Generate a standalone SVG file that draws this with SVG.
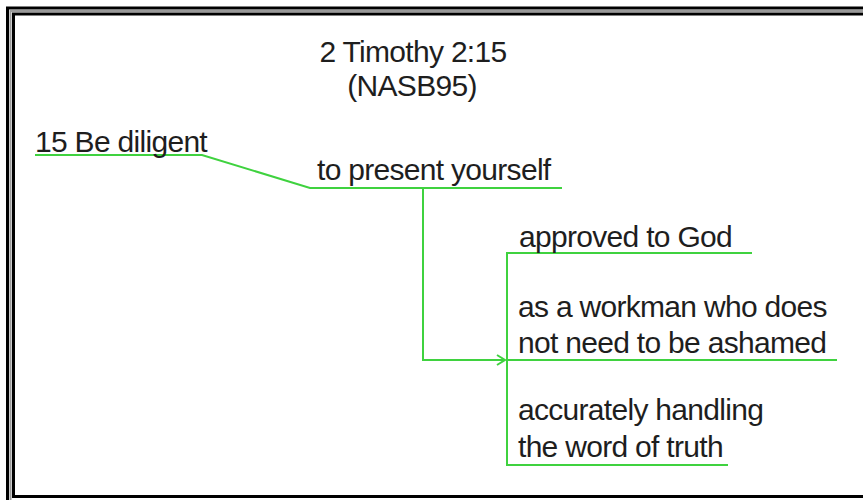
<svg xmlns="http://www.w3.org/2000/svg" width="863" height="500" viewBox="0 0 863 500">
  <style>
    .t { font-family: "Liberation Sans", Arial, sans-serif; font-size: 30px; letter-spacing: -0.7px; fill: #1e1e1e; }
    .c { text-anchor: middle; }
    .g { stroke: #3fd23f; stroke-width: 2; fill: none; }
  </style>
  <defs>
    <marker id="arr" markerWidth="12" markerHeight="12" refX="10" refY="6" orient="auto" markerUnits="userSpaceOnUse">
      <path d="M2,1 L10,6 L2,11" fill="none" stroke="#3fd23f" stroke-width="2"/>
    </marker>
  </defs>
  <rect width="863" height="500" fill="#fff"/>
  <g id="frame" fill="none">
    <rect x="7.5" y="8" width="900" height="600" stroke="#000" stroke-width="3"/>
    <rect x="10.5" y="11" width="900" height="600" stroke="#999" stroke-width="2"/>
    <rect x="13.5" y="14" width="900" height="482.5" stroke="#000" stroke-width="3"/>
  </g>
  <g id="title">
    <text class="t c" x="413" y="62">2 Timothy 2:15</text>
    <text class="t c" x="412" y="96">(NASB95)</text>
  </g>
  <g id="connectors">
    <polyline class="g" points="35,155 202,155 310,188 562,188"/>
    <polyline class="g" points="423,188 423,360 505,360" marker-end="url(#arr)"/>
    <polyline class="g" points="752,253 507,253 507,465 728,465"/>
    <line class="g" x1="507" y1="360" x2="837" y2="360"/>
  </g>
  <g id="n1"><text class="t" x="35" y="152">15 Be diligent</text></g>
  <g id="n2"><text class="t" x="317" y="180">to present yourself</text></g>
  <g id="n3"><text class="t" x="519" y="247">approved to God</text></g>
  <g id="n4">
    <text class="t" x="518" y="317">as a workman who does</text>
    <text class="t" x="518" y="353">not need to be ashamed</text>
  </g>
  <g id="n5">
    <text class="t" x="518" y="420">accurately handling</text>
    <text class="t" x="518" y="457">the word of truth</text>
  </g>
</svg>
